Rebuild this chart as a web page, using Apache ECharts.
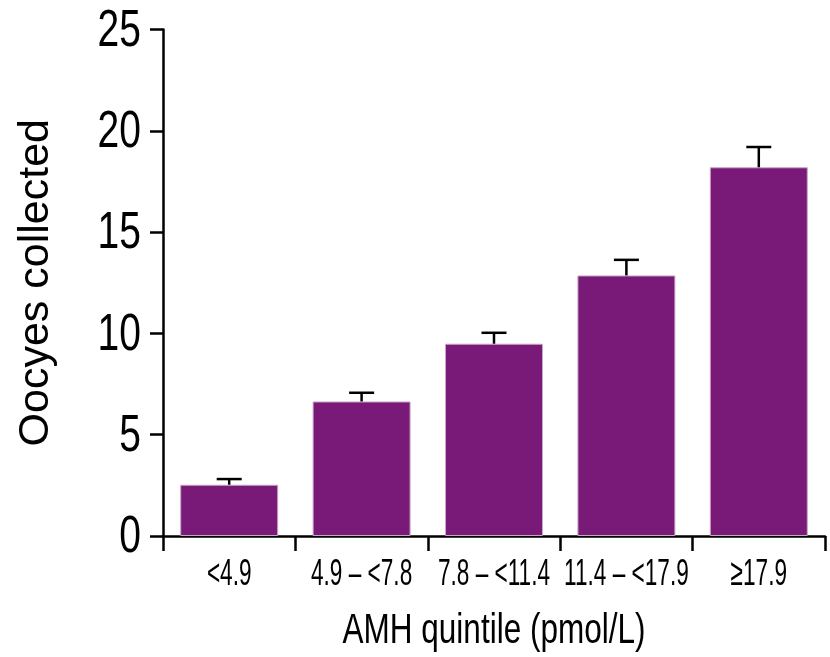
<!DOCTYPE html>
<html>
<head>
<meta charset="utf-8">
<script src="https://cdn.jsdelivr.net/npm/echarts@6/dist/echarts.min.js"></script>
<style>html,body{margin:0;padding:0;background:#fff;}#c{width:830px;height:657px;}</style>
</head>
<body>
<div id="c"></div>
<script>
const categories = ['<4.9', '4.9 – <7.8', '7.8 – <11.4', '11.4 – <17.9', '≥17.9'];
const meanOocytes = [2.53, 6.64, 9.49, 12.86, 18.2];
const upperError = [2.81, 7.07, 10.03, 13.63, 19.2];
const yTicks = [0, 5, 10, 15, 20, 25];
const xAxisTitle = 'AMH quintile (pmol/L)';
const yAxisTitle = 'Oocyes collected';

const font = "'Liberation Sans', Arial, sans-serif";
const chart = echarts.init(document.getElementById('c'));

function narrowText(x, y, text, size, sx, align) {
  return {
    type: 'text', x: x, y: y, scaleX: sx, scaleY: 1,
    style: { text: text, fontSize: size, fontFamily: font, fill: '#000', align: align, verticalAlign: 'middle' }
  };
}

chart.setOption({
  animation: false,
  grid: { left: 163, right: 5, top: 29.5, bottom: 121, containLabel: false },
  xAxis: {
    type: 'category',
    data: categories,
    boundaryGap: true,
    axisLine: { lineStyle: { color: '#000', width: 2.5 } },
    axisTick: { show: true, length: 15, lineStyle: { color: '#000', width: 2.5 } },
    axisLabel: { show: false }
  },
  yAxis: {
    type: 'value',
    min: yTicks[0],
    max: yTicks[yTicks.length - 1],
    interval: 5,
    splitLine: { show: false },
    axisLine: { show: true, lineStyle: { color: '#000', width: 2.5 } },
    axisTick: { show: true, length: 13, lineStyle: { color: '#000', width: 2.5 } },
    axisLabel: { show: false },
    name: yAxisTitle,
    nameLocation: 'middle',
    nameGap: 105,
    nameTextStyle: { color: '#000', fontSize: 43, fontFamily: font }
  },
  series: [
    {
      type: 'bar',
      data: meanOocytes,
      barWidth: '74%',
      itemStyle: { color: '#7a1a78', borderColor: '#c9a6c8', borderWidth: 1 },
      z: 2
    },
    {
      type: 'custom',
      data: categories.map((c, i) => [i, meanOocytes[i], upperError[i]]),
      z: 3,
      renderItem: function (params, api) {
        const i = api.value(0);
        const base = api.coord([i, api.value(1)]);
        const top = api.coord([i, api.value(2)]);
        const half = 12.5;
        return {
          type: 'group',
          children: [
            { type: 'line', shape: { x1: base[0], y1: base[1], x2: top[0], y2: top[1] }, style: { stroke: '#000', lineWidth: 2.5 } },
            { type: 'line', shape: { x1: top[0] - half, y1: top[1], x2: top[0] + half, y2: top[1] }, style: { stroke: '#000', lineWidth: 2.5 } }
          ]
        };
      }
    },
    {
      // y tick labels (condensed)
      type: 'custom',
      silent: true,
      data: yTicks.map(v => [0, v]),
      renderItem: function (params, api) {
        const p = api.coord([0, api.value(1)]);
        const left = params.coordSys.x;
        return narrowText(left - 22, p[1] + 2, String(api.value(1)), 52, 0.75, 'right');
      }
    },
    {
      // x tick labels (condensed)
      type: 'custom',
      silent: true,
      data: categories.map((c, i) => [i, 0]),
      renderItem: function (params, api) {
        const i = api.value(0);
        const p = api.coord([i, 0]);
        return narrowText(p[0], p[1] + 39, categories[i], 37.7, 0.6, 'center');
      }
    },
    {
      // x axis title (condensed)
      type: 'custom',
      silent: true,
      data: [[0, 0]],
      renderItem: function (params, api) {
        const cs = params.coordSys;
        const p = api.coord([0, 0]);
        return narrowText(cs.x + cs.width / 2, p[1] + 95.5, xAxisTitle, 42, 0.75, 'center');
      }
    }
  ]
});
</script>
</body>
</html>
